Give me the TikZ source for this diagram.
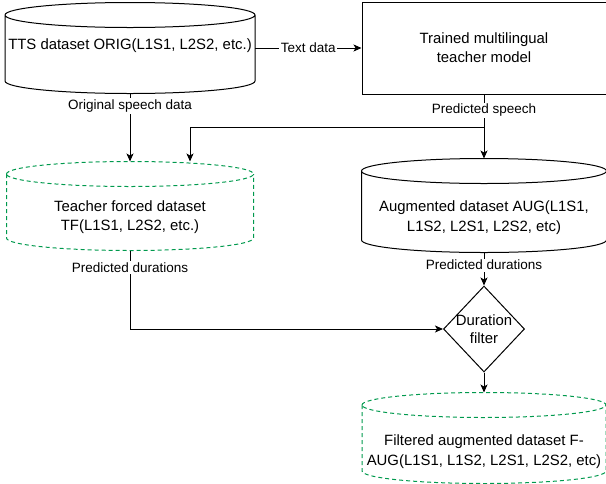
\documentclass[tikz,border=0pt]{standalone}
\usepackage{fontspec}
\setmainfont{Liberation Sans}
\usepackage{tikz}
\usetikzlibrary{arrows.meta,calc,shapes.geometric,positioning}
\tikzset{>={Stealth[length=8pt,width=7pt,inset=2pt]}}
\definecolor{dashgreen}{HTML}{00994D}
\newcommand{\cylR}{12.5pt} % half height of the cylinder caps
% text of a cylinder, lowered by #1 without changing the node size
\newcommand{\cyltext}[2]{\raisebox{#1}[0pt][0pt]{\begin{tabular}{@{}c@{}}#2\end{tabular}}}
% outline of a cylinder round the node #2
\newcommand{\drawcyl}[2]{%
 \draw[#1] let \p1=(#2.north west), \p2=(#2.south east), \n1={(\x2-\x1)/2} in
  (\x1,\y1-\cylR) arc[start angle=180, end angle=-180, x radius=\n1, y radius=\cylR]
  (\x1,\y1-\cylR) -- (\x1,\y2+\cylR)
  arc[start angle=180, end angle=360, x radius=\n1, y radius=\cylR] -- (\x2,\y1-\cylR);}

\begin{document}
\begin{tikzpicture}[x=1pt,y=-1pt,line width=1pt,
  dbase/.style={rectangle,inner sep=0pt,font=\fontsize{14.9}{19.5}\selectfont},
  model/.style={draw=black,rectangle,inner sep=0pt,align=center,font=\fontsize{14.9}{19}\selectfont},
  filter/.style={draw=black,diamond,inner sep=-9pt,align=center,font=\fontsize{14.9}{18.5}\selectfont},
  lbl/.style={fill=white,inner sep=1.5pt,font=\fontsize{13.5}{16}\selectfont},
  greendash/.style={draw=dashgreen,dash pattern=on 4pt off 3pt}]
\useasboundingbox (0,0) rectangle (606,483);
% data sets:
 \node[dbase,minimum width=249pt,minimum height=90pt] (orig) at (130,48) {\cyltext{-1pt}{TTS dataset ORIG(L1S1, L2S2, etc.)}};
 \node[dbase,minimum width=246pt,minimum height=88pt] (tf) at (130,206) {\cyltext{-14.5pt}{Teacher forced dataset\\TF(L1S1, L2S2, etc.)}};
 \node[dbase,minimum width=244pt,minimum height=93pt] (aug) at (484,205.5) {\cyltext{-15.5pt}{Augmented dataset AUG(L1S1,\\L1S2, L2S1, L2S2, etc)}};
 \node[dbase,minimum width=243pt,minimum height=90pt] (faug) at (484,438) {\cyltext{-17pt}{Filtered augmented dataset F-\\AUG(L1S1, L1S2, L2S1, L2S2, etc)}};
 \drawcyl{draw=black}{orig}
 \drawcyl{greendash}{tf}
 \drawcyl{draw=black}{aug}
 \drawcyl{greendash}{faug}
% model and filter:
 \node[model,minimum width=244pt,minimum height=92pt] (teacher) at (484,48) {Trained multilingual\\teacher model};
 \node[filter,minimum width=81pt,minimum height=86pt] (filt) at (484,329) {Duration\\filter};
%% connectors:
 \coordinate (split) at (484,127);
 \draw[->] (orig.east) -- (teacher.west) node[lbl,midway] {Text data};
 \draw[->] (orig.south) -- (tf.north) node[lbl,pos=0.18] {Original speech data};
 \draw[->] (teacher.south) -- (aug.north) node[lbl,pos=0.25] {Predicted speech};
 \draw[->] (split) -| ([xshift=60pt]tf.north);
 \draw[->] (tf.south) |- (filt.west) node[lbl,pos=0.11] {Predicted durations};
 \draw[->] (aug.south) -- (filt.north) node[lbl,pos=0.38] {Predicted durations};
 \draw[->] (filt.south) -- (faug.north);
\end{tikzpicture}
\end{document}
